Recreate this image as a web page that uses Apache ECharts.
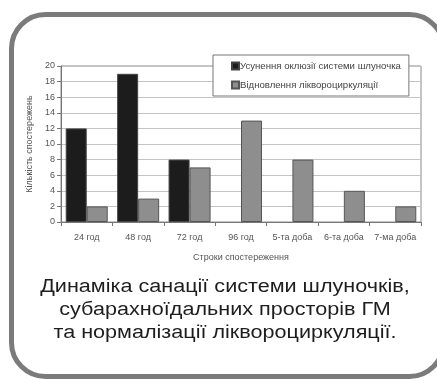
<!DOCTYPE html>
<html>
<head>
<meta charset="utf-8">
<script src="https://cdn.jsdelivr.net/npm/echarts@6/dist/echarts.min.js"></script>
<style>
  html, body { margin: 0; padding: 0; background: #fff; }
  #chart { width: 437px; height: 383px; }
</style>
</head>
<body>
<div id="chart"></div>
<script>
// строки спостереження
const categories = ['24 год', '48 год', '72 год', '96 год', '5-та доба', '6-та доба', '7-ма доба'];
const occlusionName = 'Усунення оклюзії системи шлуночка';
const liquorName = 'Відновлення ліквороциркуляції';
const occlusionValues = [12, 19, 8, 0, 0, 0, 0];
const liquorValues = [2, 3, 7, 13, 8, 4, 2];
const captionLines = [
  'Динаміка санації системи шлуночків,',
  'субарахноїдальних просторів ГМ',
  'та нормалізації ліквороциркуляції.'
];

const chart = echarts.init(document.getElementById('chart'), null, { renderer: 'canvas' });
const fontFam = '"Liberation Sans", Arial, sans-serif';

// нульові значення не малюємо (щоб не було смужки рамки)
const hideZero = arr => arr.map(v => (v === 0 ? '-' : v));

const option = {
  animation: false,
  backgroundColor: '#fff',
  textStyle: { fontFamily: fontFam },
  grid: {
    left: 61, right: 16, top: 66, bottom: 161,
    show: true,
    borderColor: '#8a8a8a',
    borderWidth: 1
  },
  legend: {
    orient: 'vertical',
    left: 213,
    top: 55,
    width: 197,
    padding: [6, 8, 6, 18],
    itemGap: 9,
    itemWidth: 7,
    itemHeight: 7,
    backgroundColor: '#fff',
    borderColor: '#777',
    borderWidth: 1,
    textStyle: { fontSize: 9.6, color: '#444', fontFamily: fontFam, padding: [0, 0, 0, -4] },
    data: [
      { name: occlusionName, icon: 'rect' },
      { name: liquorName, icon: 'rect' }
    ]
  },
  xAxis: {
    type: 'category',
    data: categories,
    name: 'Строки спостереження',
    nameLocation: 'middle',
    nameGap: 31,
    nameTextStyle: { fontSize: 9, color: '#555' },
    axisLine: { lineStyle: { color: '#777' } },
    axisTick: { show: true, length: 4, lineStyle: { color: '#777' } },
    axisLabel: { fontSize: 9, color: '#555', margin: 11, interval: 0 }
  },
  yAxis: {
    type: 'value',
    min: 0, max: 20, interval: 2,
    name: 'Кількість спостережень',
    nameLocation: 'middle',
    nameGap: 23,
    nameTextStyle: { fontSize: 9, color: '#555' },
    axisLine: { show: true, lineStyle: { color: '#777' } },
    axisTick: { show: true, length: 4, lineStyle: { color: '#777' } },
    axisLabel: { fontSize: 9, color: '#555', margin: 6 },
    splitLine: { lineStyle: { color: '#c4c4c4' } }
  },
  series: [
    {
      name: occlusionName,
      type: 'bar',
      data: hideZero(occlusionValues),
      barWidth: 21,
      barGap: '0%',
      itemStyle: { color: '#1c1c1c', borderColor: '#444', borderWidth: 1 }
    },
    {
      name: liquorName,
      type: 'bar',
      data: hideZero(liquorValues),
      barWidth: 21,
      itemStyle: { color: '#8e8e8e', borderColor: '#555', borderWidth: 1 }
    }
  ],
  graphic: [
    {
      type: 'rect',
      silent: true,
      shape: { x: 11.5, y: 14.5, width: 432, height: 362, r: 34 },
      style: { fill: 'none', stroke: '#7b7b7b', lineWidth: 5 },
      z: 0
    },
    {
      type: 'text',
      x: 225,
      y: 276,
      scaleX: 1.2,
      style: {
        x: 0,
        y: 0,
        text: captionLines.join('\n'),
        font: '18px "Liberation Sans", Arial, sans-serif',
        fill: '#1e1e1e',
        align: 'center',
        lineHeight: 23
      }
    }
  ]
};

chart.setOption(option);
</script>
</body>
</html>
